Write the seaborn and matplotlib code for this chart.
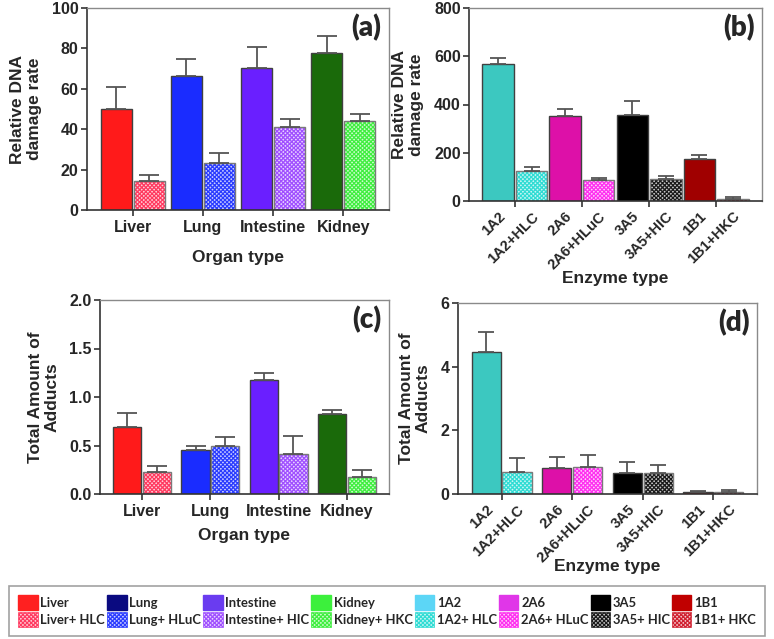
import numpy as np
import pandas as pd
import matplotlib
matplotlib.use('Agg')
import matplotlib.pyplot as plt
from matplotlib.patches import Patch
from matplotlib.colors import to_rgba
import seaborn as sns

organs = ['Liver', 'Lung', 'Intestine', 'Kidney']
organ_cyt = ['Liver+ HLC', 'Lung+ HLuC', 'Intestine+ HIC', 'Kidney+ HKC']
enzymes = ['1A2', '2A6', '3A5', '1B1']
enzyme_cyt = ['1A2+HLC', '2A6+HLuC', '3A5+HIC', '1B1+HKC']
enzyme_cyt_leg = ['1A2+ HLC', '2A6+ HLuC', '3A5+ HIC', '1B1+ HKC']

# (a) relative DNA damage rate, organ microsomes alone / with cytosol
dna_organ = [50.2, 66.3, 70.1, 77.9]
dna_organ_err = [10.7, 8.5, 10.6, 8.4]
dna_organ_cyt = [14.2, 23.4, 40.9, 43.9]
dna_organ_cyt_err = [3.3, 4.6, 4.0, 3.5]

# (b) relative DNA damage rate, enzymes
dna_enz = [569, 353, 358, 175]
dna_enz_err = [25, 29, 58, 15]
dna_enz_cyt = [125, 85, 91, 8]
dna_enz_cyt_err = [14, 11, 11, 7]

# (c) total adducts, organs
add_organ = [0.686, 0.452, 1.176, 0.824]
add_organ_err = [0.154, 0.045, 0.069, 0.038]
add_organ_cyt = [0.224, 0.497, 0.414, 0.179]
add_organ_cyt_err = [0.069, 0.093, 0.189, 0.073]

# (d) total adducts, enzymes
add_enz = [4.45, 0.82, 0.67, 0.06]
add_enz_err = [0.64, 0.35, 0.32, 0.02]
add_enz_cyt = [0.68, 0.86, 0.65, 0.07]
add_enz_cyt_err = [0.44, 0.37, 0.27, 0.06]

# colours
organ_cols = ['#ff1a1a', '#1a2cff', '#6a1fff', '#1a6a0a']
organ_hatch = ['#ff3a60', '#2a3cff', '#a050ff', '#40ee40']
enz_cols = ['#3cc8c0', '#dd10a8', '#000000', '#a00000']
enz_hatch = ['#30dcd4', '#ff30f0', '#1a1a1a', '#d02030']
organ_leg = ['#ff2020', '#0a0a80', '#6a3cf0', '#3cf03c']
enz_leg = ['#5cd6f6', '#e036e8', '#000000', '#c00000']

HATCH = 'xxxxxxxx'


def light(c, f=0.75):
    r = np.array(to_rgba(c)[:3])
    return tuple(r + (1 - r) * f)


def set_hatch(p, col):
    p.set_facecolor(light(col))
    p.set_edgecolor('#7a7a7a')
    p.set_hatch(HATCH)
    if hasattr(p, 'set_hatchcolor'):
        p.set_hatchcolor(col)
    else:
        p._hatch_color = to_rgba(col)


sns.set_theme(style='ticks')
plt.rcParams['font.family'] = ['Liberation Sans', 'DejaVu Sans']
plt.rcParams['font.weight'] = 'bold'
plt.rcParams['axes.labelweight'] = 'bold'
plt.rcParams['hatch.linewidth'] = 0.9

fig = plt.figure(figsize=(7.74, 6.39), dpi=100)
W, H = 774, 639


def add_ax(l, r, t, b):
    return fig.add_axes([l / W, 1 - b / H, (r - l) / W, (b - t) / H])


def style(ax, tag, ylabel, xlabel, ylim, yticks, yfmt, xpad):
    ax.set_ylim(*ylim)
    ax.set_yticks(yticks)
    ax.set_yticklabels([yfmt.format(v) for v in yticks])
    ax.set_ylabel(ylabel, fontsize=12.5, labelpad=7, linespacing=1.15)
    ax.set_xlabel(xlabel, fontsize=12.5, labelpad=xpad)
    ax.tick_params(axis='y', labelsize=11.5, length=4, width=1.2, color='#333333', pad=2)
    for s in ['left', 'bottom']:
        ax.spines[s].set_color('#333333')
        ax.spines[s].set_linewidth(1.2)
    for s in ['top', 'right']:
        ax.spines[s].set_visible(True)
        ax.spines[s].set_color('#8a8a8a')
        ax.spines[s].set_linewidth(1.0)
    ax.text(0.975, 0.97, tag, transform=ax.transAxes, ha='right', va='top',
            fontsize=20, fontweight='heavy', family=['Lato', 'DejaVu Sans'])


def grouped(ax, groups, base, base_err, cyt, cyt_err, cols, hcols, width, cap):
    df = pd.DataFrame({'group': groups * 2,
                       'kind': ['alone'] * 4 + ['cytosol'] * 4,
                       'value': base + cyt})
    sns.barplot(data=df, x='group', y='value', hue='kind', order=groups,
                hue_order=['alone', 'cytosol'], width=width, gap=0.05,
                errorbar=None, legend=False, ax=ax, linewidth=1,
                edgecolor='#404040', saturation=1)
    bars = sorted(ax.patches, key=lambda p: p.get_x())
    errs = []
    for i, p in enumerate(bars):
        g = i // 2
        if i % 2 == 0:
            p.set_facecolor(cols[g])
            p.set_edgecolor('#404040')
            errs.append(base_err[g])
        else:
            set_hatch(p, hcols[g])
            errs.append(cyt_err[g])
    xs = [p.get_x() + p.get_width() / 2 for p in bars]
    hs = [p.get_height() for p in bars]
    ax.errorbar(xs, hs, yerr=[np.zeros(len(errs)), errs], fmt='none',
                ecolor='#555555', elinewidth=1.3, capsize=cap, capthick=1.3, zorder=1)
    return xs


# ---- (a)
ax = add_ax(87, 389, 8, 210)
grouped(ax, organs, dna_organ, dna_organ_err, dna_organ_cyt, dna_organ_cyt_err,
        organ_cols, organ_hatch, 0.94, 7)
ax.tick_params(axis='x', labelsize=11.5, length=4, width=1.2, color='#333333', pad=3)
style(ax, '(a)', 'Relative DNA\ndamage rate', 'Organ type', (0, 100),
      [0, 20, 40, 60, 80, 100], '{:.0f}', 11)

# ---- (c)
ax = add_ax(100, 389, 300, 494)
grouped(ax, organs, add_organ, add_organ_err, add_organ_cyt, add_organ_cyt_err,
        organ_cols, organ_hatch, 0.87, 7)
ax.tick_params(axis='x', labelsize=11.5, length=4, width=1.2, color='#333333', pad=3)
style(ax, '(c)', 'Total Amount of\nAdducts', 'Organ type', (0, 2),
      [0, 0.5, 1.0, 1.5, 2.0], '{:.1f}', 7)

# ---- (b)
ax = add_ax(469, 762, 8, 201)
labels_b = [l for pair in zip(enzymes, enzyme_cyt) for l in pair]
vals_b = [v for pair in zip(dna_enz, dna_enz_cyt) for v in pair]
errs_b = [v for pair in zip(dna_enz_err, dna_enz_cyt_err) for v in pair]
sns.barplot(x=labels_b, y=vals_b, order=labels_b, width=0.93, color='grey',
            errorbar=None, ax=ax, linewidth=1, edgecolor='#404040', saturation=1)
bars = sorted(ax.patches, key=lambda p: p.get_x())
for i, p in enumerate(bars):
    if i % 2 == 0:
        p.set_facecolor(enz_cols[i // 2])
    else:
        set_hatch(p, enz_hatch[i // 2])
xs = [p.get_x() + p.get_width() / 2 for p in bars]
ax.errorbar(xs, [p.get_height() for p in bars], yerr=[np.zeros(8), errs_b], fmt='none',
            ecolor='#555555', elinewidth=1.3, capsize=6, capthick=1.3, zorder=1)
ax.set_xticks(xs)
ax.set_xticklabels(labels_b, rotation=45, ha='right', rotation_mode='anchor')
ax.tick_params(axis='x', which='major', length=0, labelsize=10.5, pad=6)
ax.set_xticks([(xs[i] + xs[i + 1]) / 2 for i in range(0, 8, 2)], minor=True)
ax.tick_params(axis='x', which='minor', length=4, width=1.2, color='#333333')
style(ax, '(b)', 'Relative DNA\ndamage rate', 'Enzyme type', (0, 800),
      [0, 200, 400, 600, 800], '{:.0f}', -1)

# ---- (d)
ax = add_ax(458, 757, 303, 494)
xs = grouped(ax, enzymes, add_enz, add_enz_err, add_enz_cyt, add_enz_cyt_err,
             enz_cols, enz_hatch, 0.87, 6)
ax.set_xticks(xs)
ax.set_xticklabels(labels_b, rotation=45, ha='right', rotation_mode='anchor')
ax.tick_params(axis='x', which='major', length=0, labelsize=10.5, pad=6)
ax.set_xticks(range(4), minor=True)
ax.tick_params(axis='x', which='minor', length=4, width=1.2, color='#333333')
style(ax, '(d)', 'Total Amount of\nAdducts', 'Enzyme type', (0, 6),
      [0, 2, 4, 6], '{:.0f}', -4)

# ---- legend
handles, labels = [], []
for cols, hcols, names, cnames in [(organ_leg, organ_hatch, organs, organ_cyt),
                                   (enz_leg, enz_hatch, enzymes, enzyme_cyt_leg)]:
    for c, hc, n, cn in zip(cols, hcols, names, cnames):
        handles.append(Patch(facecolor=c, edgecolor=c))
        labels.append(n)
        hp = Patch()
        set_hatch(hp, hc)
        hp.set_edgecolor(hc)
        hp.set_linewidth(0.5)
        handles.append(hp)
        labels.append(cn)

leg = fig.legend(handles, labels, ncol=8, loc='lower center',
                 bbox_to_anchor=(0.5, 3 / H),
                 prop={'family': ['Lato', 'DejaVu Sans'], 'weight': 'bold', 'size': 9.4},
                 handlelength=1.5, handleheight=1.4, handletextpad=0.2,
                 columnspacing=0.15, labelspacing=0.15, borderpad=0.7,
                 borderaxespad=0, frameon=True, fancybox=False)
leg.get_frame().set_edgecolor('#8a8a8a')
leg.get_frame().set_linewidth(1.2)

fig.savefig('out.png', dpi=100)
